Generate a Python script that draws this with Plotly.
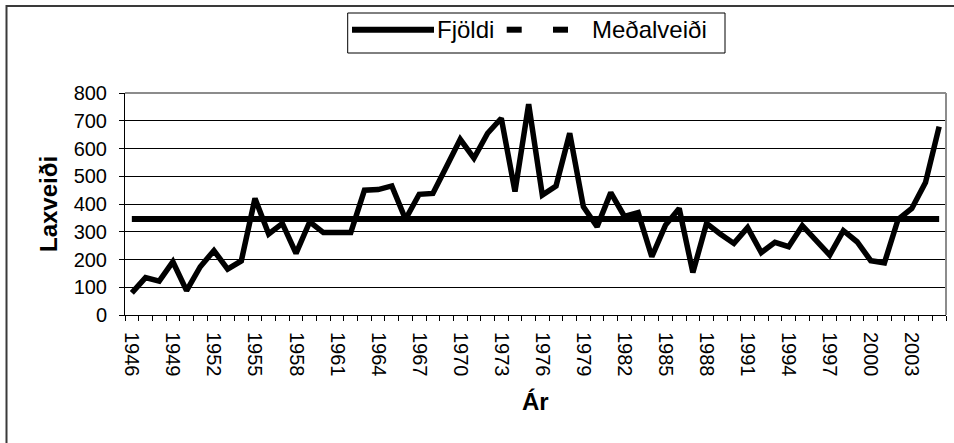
import plotly.graph_objects as go

# ---- data ----
years = list(range(1946, 2006))
catch = [80, 135, 122, 192, 88, 174, 232, 165, 195, 420,
         292, 330, 222, 336, 297, 297, 297, 450, 452, 465,
         345, 435, 438, 535, 633, 565, 655, 709, 445, 760,
         432, 465, 655, 390, 318, 441, 355, 369, 210, 324,
         384, 153, 330, 292, 258, 315, 225, 262, 246, 322,
         267, 216, 304, 264, 196, 188, 345, 384, 477, 679]
mean_value = 346
mean_series = [mean_value] * len(years)
tick_years = list(range(1946, 2004, 3))
tick_labels = [str(y) for y in tick_years]
y_ticks = [0, 100, 200, 300, 400, 500, 600, 700, 800]

# ---- geometry ----
W, H = 954, 443
L, R, T, B = 125, 8, 93, 128
PW, PH = W - L - R, H - T - B
FONT = "Liberation Sans, Arial, sans-serif"


def px(x):
    return (x - L) / PW


def py(y):
    return (T + PH - y) / PH


fig = go.Figure()
fig.add_trace(go.Scatter(x=years, y=catch, mode="lines", name="Fjöldi",
                         line=dict(color="black", width=5.5), showlegend=False))
fig.add_trace(go.Scatter(x=years, y=mean_series, mode="lines", name="Meðalveiði",
                         line=dict(color="black", width=6), showlegend=False))

shapes = []
# outer chart border
shapes.append(dict(type="rect", xref="paper", yref="paper",
                   x0=px(6.5), x1=px(1100), y0=py(600), y1=py(6),
                   line=dict(color="#3a3a3a", width=2), layer="below"))
# plot area top & right border (grey)
shapes.append(dict(type="line", xref="paper", yref="paper", x0=0, x1=1, y0=1, y1=1,
                   line=dict(color="#8c8c8c", width=2)))
shapes.append(dict(type="line", xref="paper", yref="paper", x0=1, x1=1, y0=0, y1=1,
                   line=dict(color="#8c8c8c", width=2)))
# legend box
shapes.append(dict(type="rect", xref="paper", yref="paper",
                   x0=px(347.7), x1=px(725), y0=py(53), y1=py(13),
                   line=dict(color="black", width=1), fillcolor="white"))
ly = py(29.7)
shapes.append(dict(type="line", xref="paper", yref="paper", x0=px(352), x1=px(434),
                   y0=ly, y1=ly, line=dict(color="black", width=6)))
shapes.append(dict(type="line", xref="paper", yref="paper", x0=px(506.7), x1=px(521.7),
                   y0=ly, y1=ly, line=dict(color="black", width=6)))
shapes.append(dict(type="line", xref="paper", yref="paper", x0=px(553), x1=px(568),
                   y0=ly, y1=ly, line=dict(color="black", width=6)))

annotations = [
    dict(text="Fjöldi", xref="paper", yref="paper", x=px(435), y=ly, xanchor="left",
         yanchor="middle", showarrow=False, font=dict(family=FONT, size=24, color="black")),
    dict(text="Meðalveiði", xref="paper", yref="paper", x=px(590), y=ly, xanchor="left",
         yanchor="middle", showarrow=False, font=dict(family=FONT, size=24, color="black")),
    dict(text="<b>Laxveiði</b>", xref="paper", yref="paper", x=px(48), y=py(204),
         xanchor="center", yanchor="middle", textangle=-90, showarrow=False,
         font=dict(family=FONT, size=24, color="black")),
    dict(text="<b>Ár</b>", xref="paper", yref="paper", x=px(535), y=py(401),
         xanchor="center", yanchor="middle", showarrow=False,
         font=dict(family=FONT, size=24, color="black")),
]

fig.update_layout(
    width=W, height=H,
    margin=dict(l=L, r=R, t=T, b=B, pad=0),
    paper_bgcolor="white", plot_bgcolor="white",
    font=dict(family=FONT, size=20, color="black"),
    showlegend=False,
    shapes=shapes,
    annotations=annotations,
)
fig.update_xaxes(
    range=[1945.5, 2005.5],
    tickmode="array", tickvals=tick_years, ticktext=tick_labels,
    tickangle=90, ticks="", ticklabelstandoff=12,
    showgrid=False, zeroline=False,
    showline=True, linecolor="black", linewidth=1,
    tickfont=dict(family=FONT, size=20, color="black"),
    minor=dict(tick0=1945.5, dtick=1, ticks="outside", ticklen=5,
               tickcolor="black", tickwidth=1, showgrid=False),
)
fig.update_yaxes(
    range=[0, 800],
    tickmode="array", tickvals=y_ticks,
    ticks="outside", ticklen=5, tickcolor="black", tickwidth=1,
    ticklabelstandoff=8,
    showgrid=True, gridcolor="black", gridwidth=1,
    zeroline=False,
    showline=True, linecolor="black", linewidth=1,
    tickfont=dict(family=FONT, size=20, color="black"),
)

fig.write_html("out.html",
               config={"displayModeBar": False},
               post_script="document.body.style.margin='0';document.body.style.overflow='hidden';")
